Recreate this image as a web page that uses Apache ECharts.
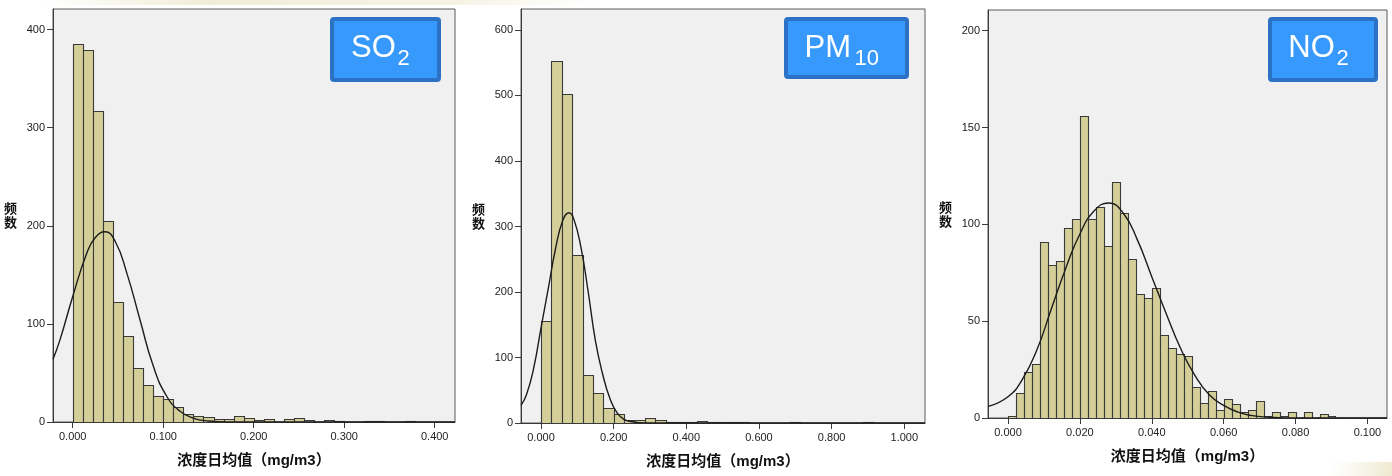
<!DOCTYPE html>
<html>
<head>
<meta charset="utf-8">
<script src="https://cdn.jsdelivr.net/npm/echarts@6/dist/echarts.min.js"></script>
<style>
  html, body { margin: 0; padding: 0; background: #ffffff; }
  #chart { width: 1392px; height: 476px; }
</style>
</head>
<body>
<div id="chart"></div>
<script>
// ---- SO2: daily mean concentration histogram (bins start at 0) ----
const so2BinWidth = 0.1 / 9;
const so2Counts = [385, 379, 317, 205, 122, 88, 55, 38, 27, 23, 15, 8, 6, 5, 3, 3, 6, 4, 2, 3,
                   0, 3, 4, 2, 0, 2, 1, 0, 0, 1, 1, 0, 0, 1];
const so2CurveX = [-0.0218, -0.014, 0.0, 0.0155, 0.025, 0.0357, 0.047, 0.0597, 0.0744, 0.089,
                   0.104, 0.1186, 0.133, 0.15, 0.17, 0.2, 0.4224];
const so2CurveY = [64, 84, 128, 172, 188, 194, 184, 152, 104, 57, 26, 11, 4, 1, 0, 0, 0];
const so2XTicks = [0, 0.1, 0.2, 0.3, 0.4];
const so2YTicks = [0, 100, 200, 300, 400];

// ---- PM10 ----
const pm10BinWidth = 0.2 / 7;
const pm10Counts = [156, 553, 503, 257, 74, 46, 23, 14, 4, 4, 7, 4, 1, 1, 1, 3, 1, 1, 1, 1,
                    0, 0, 0, 0, 1, 0, 0, 0, 0, 0, 0, 1];
const pm10CurveX = [-0.055, -0.04, -0.02, 0.0, 0.02, 0.04, 0.06, 0.077, 0.09, 0.11, 0.13, 0.15,
                    0.17, 0.19, 0.21, 0.23, 0.25, 0.27, 0.3, 1.057];
const pm10CurveY = [27, 43, 84, 145, 205, 266, 309, 321, 312, 268, 200, 125, 74, 37, 15, 5, 2, 0.5, 0, 0];
const pm10XTicks = [0, 0.2, 0.4, 0.6, 0.8, 1.0];
const pm10YTicks = [0, 100, 200, 300, 400, 500, 600];

// ---- NO2 ----
const no2BinWidth = 0.02 / 9;
const no2Counts = [1, 13, 24, 28, 91, 79, 81, 98, 103, 156, 103, 109, 89, 122, 106, 82, 64, 62, 67, 43,
                   36, 33, 32, 16, 8, 14, 4, 10, 7, 3, 4, 9, 1, 3, 1, 3, 0, 3, 0, 2, 1];
const no2CurveX = [-0.0055, 0.0, 0.004, 0.008, 0.012, 0.016, 0.02, 0.024, 0.028, 0.032, 0.036,
                   0.04, 0.044, 0.048, 0.052, 0.056, 0.06, 0.064, 0.068, 0.072, 0.08, 0.1054];
const no2CurveY = [6, 11, 20, 35, 56, 77, 95, 107, 111, 106, 92, 73, 54, 36, 22, 12, 6.5, 3, 1.2, 0.5, 0, 0];
const no2XTicks = [0, 0.02, 0.04, 0.06, 0.08, 0.1];
const no2YTicks = [0, 50, 100, 150, 200];

const axisTitleX = '浓度日均值（mg/m3）';
const axisTitleY = '频\n数';

const panels = [
  { main: 'SO', sub: '2', binWidth: so2BinWidth, counts: so2Counts, curveX: so2CurveX, curveY: so2CurveY,
    xTicks: so2XTicks, yTicks: so2YTicks, xMin: -0.0218, xMax: 0.4224, yMax: 421,
    grid: { left: 53, top: 9, width: 402, height: 413 },
    box: { x: 330, y: 17, w: 111, h: 65 }, mainX: 351, subX: 397.5 },
  { main: 'PM', sub: '10', binWidth: pm10BinWidth, counts: pm10Counts, curveX: pm10CurveX, curveY: pm10CurveY,
    xTicks: pm10XTicks, yTicks: pm10YTicks, xMin: -0.055, xMax: 1.057, yMax: 632,
    grid: { left: 521, top: 9, width: 404, height: 414 },
    box: { x: 784, y: 17, w: 125, h: 62 }, mainX: 804.5, subX: 854.5 },
  { main: 'NO', sub: '2', binWidth: no2BinWidth, counts: no2Counts, curveX: no2CurveX, curveY: no2CurveY,
    xTicks: no2XTicks, yTicks: no2YTicks, xMin: -0.00556, xMax: 0.10544, yMax: 210.7,
    grid: { left: 988, top: 10, width: 399, height: 408 },
    box: { x: 1268, y: 17, w: 110, h: 65 }, mainX: 1288.3, subX: 1336.5 }
];

const FONT = "'Liberation Sans', Arial, 'Noto Sans CJK SC', sans-serif";
const BAR_FILL = '#d4cf98';
const BAR_EDGE = '#3a3a3a';

function renderBin(params, api) {
  const topLeft = api.coord([api.value(0), api.value(2)]);
  const bottomRight = api.coord([api.value(1), 0]);
  const x0 = Math.round(topLeft[0]) + 0.5;
  const x1 = Math.round(bottomRight[0]) + 0.5;
  const y0 = Math.round(topLeft[1]) + 0.5;
  const y1 = Math.round(bottomRight[1]) + 0.5;
  return {
    type: 'rect',
    shape: { x: x0, y: y0, width: x1 - x0, height: Math.max(y1 - y0, 0.6) },
    style: { fill: BAR_FILL, stroke: BAR_EDGE, lineWidth: 1.1 }
  };
}

const grids = [], xAxes = [], yAxes = [], series = [];

// faint slide backdrop along the top edge and in the lower-right corner
const graphics = [
  { type: 'rect', z: -1, silent: true, shape: { x: 40, y: 0, width: 560, height: 5 },
    style: { fill: new echarts.graphic.LinearGradient(0, 0, 1, 0, [
      { offset: 0, color: 'rgba(236,232,205,0)' },
      { offset: 0.3, color: 'rgba(236,232,205,0.8)' },
      { offset: 0.75, color: 'rgba(240,236,214,0.6)' },
      { offset: 1, color: 'rgba(240,236,214,0)' }]) } },
  { type: 'rect', z: -1, silent: true, shape: { x: 1330, y: 462, width: 62, height: 14 },
    style: { fill: new echarts.graphic.LinearGradient(0, 0, 1, 1, [
      { offset: 0, color: 'rgba(242,238,220,0)' },
      { offset: 1, color: 'rgba(236,230,200,0.9)' }]) } }
];

panels.forEach((p, i) => {
  grids.push(Object.assign({ show: true, backgroundColor: '#f0f0f0', borderColor: '#5a5a5a', borderWidth: 1 }, p.grid));

  xAxes.push({
    gridIndex: i, type: 'value', min: p.xMin, max: p.xMax,
    axisLine: { show: true, onZero: false, lineStyle: { color: '#3a3a3a', width: 1 } },
    axisTick: { show: true, customValues: p.xTicks, length: 6, lineStyle: { color: '#3a3a3a' } },
    axisLabel: { customValues: p.xTicks, formatter: v => v.toFixed(3), margin: 9,
                 fontSize: 11, color: '#222', fontFamily: FONT },
    splitLine: { show: false },
    name: axisTitleX, nameLocation: 'middle', nameGap: 31,
    nameTextStyle: { fontSize: 15, fontWeight: 'bold', color: '#111', fontFamily: FONT }
  });

  yAxes.push({
    gridIndex: i, type: 'value', min: 0, max: p.yMax,
    axisLine: { show: true, onZero: false, lineStyle: { color: '#3a3a3a', width: 1 } },
    axisTick: { show: true, customValues: p.yTicks, length: 6, lineStyle: { color: '#3a3a3a' } },
    axisLabel: { customValues: p.yTicks, margin: 8, fontSize: 11, color: '#222', fontFamily: FONT },
    splitLine: { show: false },
    name: axisTitleY, nameLocation: 'middle', nameRotate: 0, nameGap: 36,
    nameTextStyle: { fontSize: 13, fontWeight: 'bold', color: '#111', lineHeight: 14,
                     fontFamily: "'Noto Sans CJK SC', sans-serif" }
  });

  const bins = p.counts
    .map((c, k) => [k * p.binWidth, (k + 1) * p.binWidth, c])
    .filter(d => d[2] > 0);

  series.push({
    type: 'custom', xAxisIndex: i, yAxisIndex: i, clip: true,
    renderItem: renderBin, encode: { x: [0, 1], y: 2 }, data: bins, z: 2
  });

  series.push({
    type: 'line', xAxisIndex: i, yAxisIndex: i, clip: true, smooth: 0.5,
    symbol: 'none', silent: true, z: 3,
    lineStyle: { color: '#1c1c1c', width: 1.4 },
    data: p.curveX.map((x, k) => [x, p.curveY[k]])
  });

  // pollutant label box
  graphics.push({
    type: 'rect', z: 10,
    shape: { x: p.box.x + 2, y: p.box.y + 2, width: p.box.w - 4, height: p.box.h - 4, r: 2 },
    style: { fill: '#3799fc', stroke: '#2b72c4', lineWidth: 4 }
  });
  graphics.push({
    type: 'text', z: 11, x: p.mainX, y: p.box.y + 31,
    style: { text: p.main, fill: '#ffffff', fontSize: 31, fontFamily: FONT,
             textAlign: 'left', textVerticalAlign: 'middle' }
  });
  graphics.push({
    type: 'text', z: 11, x: p.subX, y: p.box.y + 42,
    style: { text: p.sub, fill: '#ffffff', fontSize: 22, fontFamily: FONT,
             textAlign: 'left', textVerticalAlign: 'middle' }
  });
});

const chart = echarts.init(document.getElementById('chart'), null, { renderer: 'canvas' });
chart.setOption({
  animation: false,
  backgroundColor: '#ffffff',
  grid: grids,
  xAxis: xAxes,
  yAxis: yAxes,
  series: series,
  graphic: graphics
});
</script>
</body>
</html>
